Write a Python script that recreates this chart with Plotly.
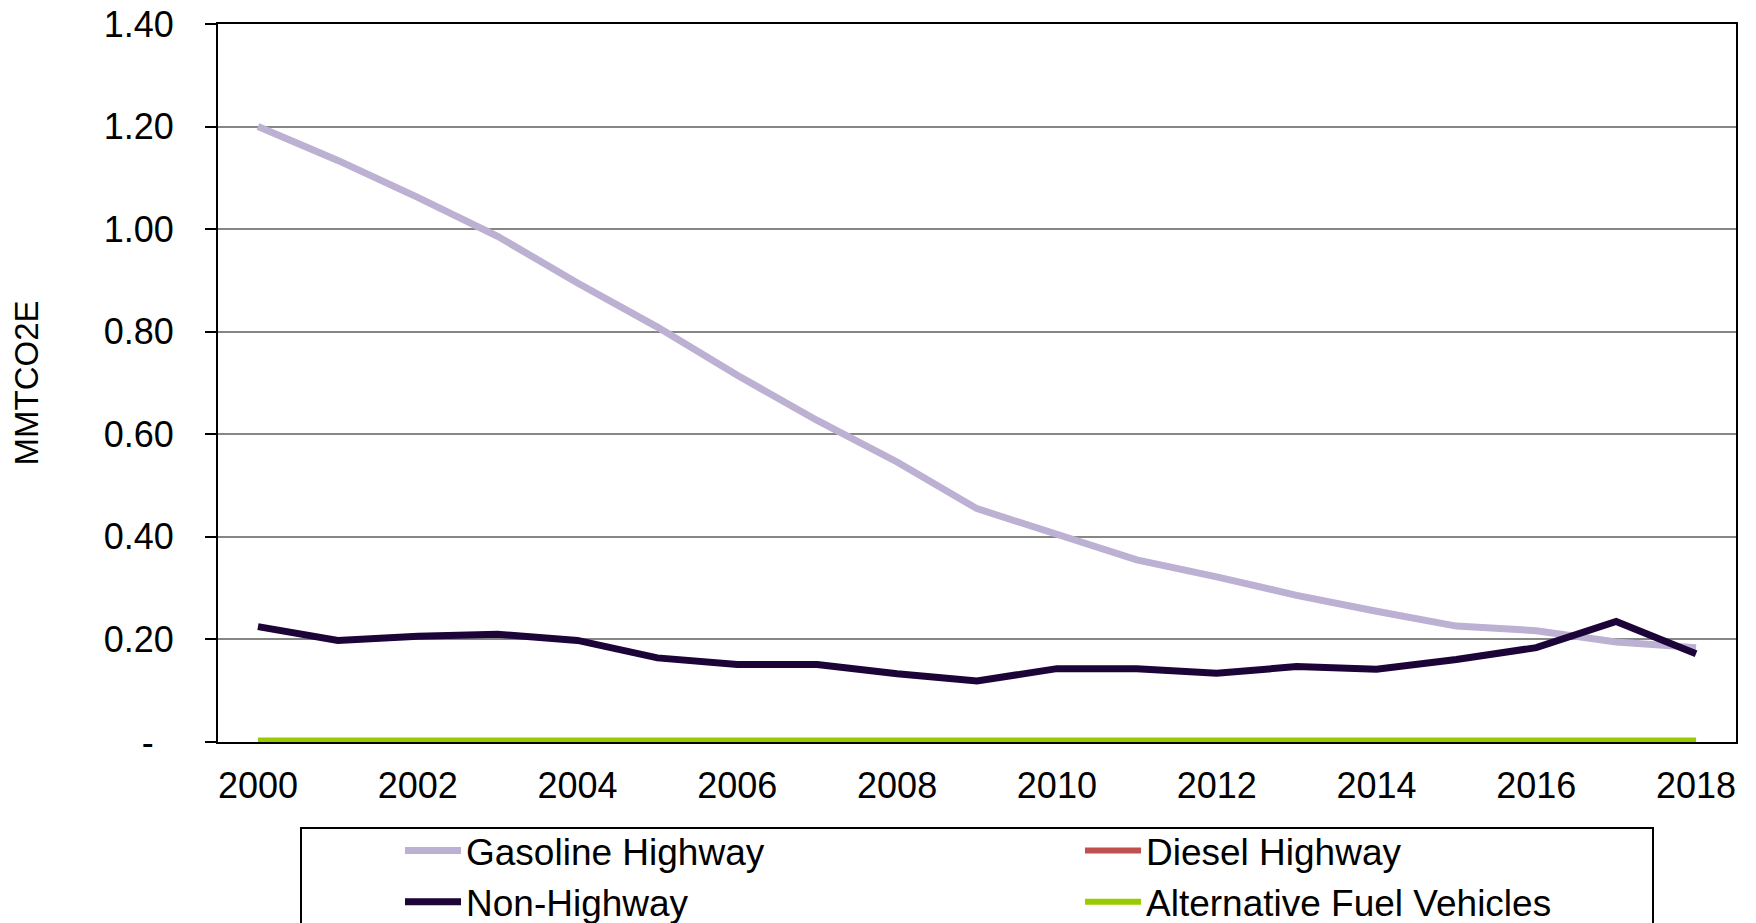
import plotly.graph_objects as go

years = list(range(2000, 2019))
gasoline_highway = [1.20, 1.134, 1.062, 0.986, 0.895, 0.809, 0.715, 0.627, 0.546, 0.455,
                    0.405, 0.355, 0.322, 0.286, 0.255, 0.226, 0.217, 0.195, 0.184]
diesel_highway = [0.001] * 19
non_highway = [0.225, 0.198, 0.206, 0.210, 0.198, 0.164, 0.151, 0.151, 0.133, 0.119,
               0.143, 0.143, 0.134, 0.147, 0.142, 0.161, 0.184, 0.235, 0.172]
alt_fuel = [0.003] * 19

y_ticks = [0, 0.2, 0.4, 0.6, 0.8, 1.0, 1.2, 1.4]
y_tick_labels = ["-\u00a0\u00a0", "0.20", "0.40", "0.60", "0.80", "1.00", "1.20", "1.40"]
x_ticks = [2000, 2002, 2004, 2006, 2008, 2010, 2012, 2014, 2016, 2018]

FONT = "Arial, Liberation Sans, sans-serif"

fig = go.Figure()
fig.add_trace(go.Scatter(x=years, y=gasoline_highway, name="Gasoline Highway", mode="lines",
                         line=dict(color="#BCB0D3", width=7)))
fig.add_trace(go.Scatter(x=years, y=diesel_highway, name="Diesel Highway", mode="lines",
                         line=dict(color="#C0504D", width=6)))
fig.add_trace(go.Scatter(x=years, y=non_highway, name="Non-Highway", mode="lines",
                         line=dict(color="#1C0338", width=7)))
fig.add_trace(go.Scatter(x=years, y=alt_fuel, name="Alternative Fuel Vehicles", mode="lines",
                         line=dict(color="#99CC00", width=6)))

# page has an 8px body margin; work in page coordinates and convert
OFF = 8
W, H = 1756 - OFF, 923 - OFF
PL, PR, PT, PB = 218, 1736, 24, 742  # plot box in page pixels
L, T = PL - OFF, PT - OFF
R, B = W - (PR - OFF), H - (PB - OFF)
pw, ph = W - L - R, H - T - B

def px_x(p):
    return (p - OFF - L) / pw

def px_y(p):
    return (H - B - (p - OFF)) / ph

fig.update_layout(
    width=W, height=H,
    margin=dict(l=L, r=R, t=T, b=B, pad=0, autoexpand=False),
    paper_bgcolor="white", plot_bgcolor="white",
    font=dict(family=FONT, color="black", size=36),
    showlegend=True,
    legend=dict(
        orientation="h",
        x=px_x(400), xanchor="left",
        y=px_y(820), yanchor="top",
        font=dict(family=FONT, size=37, color="black"),
        entrywidth=609, entrywidthmode="pixels",
        itemwidth=56,
        bgcolor="rgba(0,0,0,0)",
        borderwidth=0,
        traceorder="normal",
    ),
    shapes=[dict(type="rect", xref="paper", yref="paper",
                 x0=px_x(301), x1=px_x(1653), y0=px_y(940), y1=px_y(828),
                 line=dict(color="black", width=2), fillcolor="rgba(0,0,0,0)", layer="above")],
    xaxis=dict(
        range=[1999.5, 2018.5],
        tickvals=x_ticks, ticktext=[str(v) for v in x_ticks],
        showgrid=False, zeroline=False,
        showline=True, linecolor="black", linewidth=2, mirror=True,
        ticks="", ticklabelstandoff=11, automargin=False, ticklabeloverflow="allow",
        tickfont=dict(family=FONT, size=36, color="black"),
    ),
    yaxis=dict(
        range=[0, 1.4],
        tickvals=y_ticks, ticktext=y_tick_labels,
        showgrid=True, gridcolor="#868686", gridwidth=1.5,
        zeroline=False,
        showline=True, linecolor="black", linewidth=2, mirror=True,
        ticks="outside", ticklen=11, tickcolor="black", tickwidth=2,
        ticklabelstandoff=24, automargin=False, ticklabeloverflow="allow",
        tickfont=dict(family=FONT, size=36, color="black"),
        title=dict(text="MMTCO2E", font=dict(family=FONT, size=33, color="black"), standoff=59),
    ),
)

fig.write_html("out.html")
